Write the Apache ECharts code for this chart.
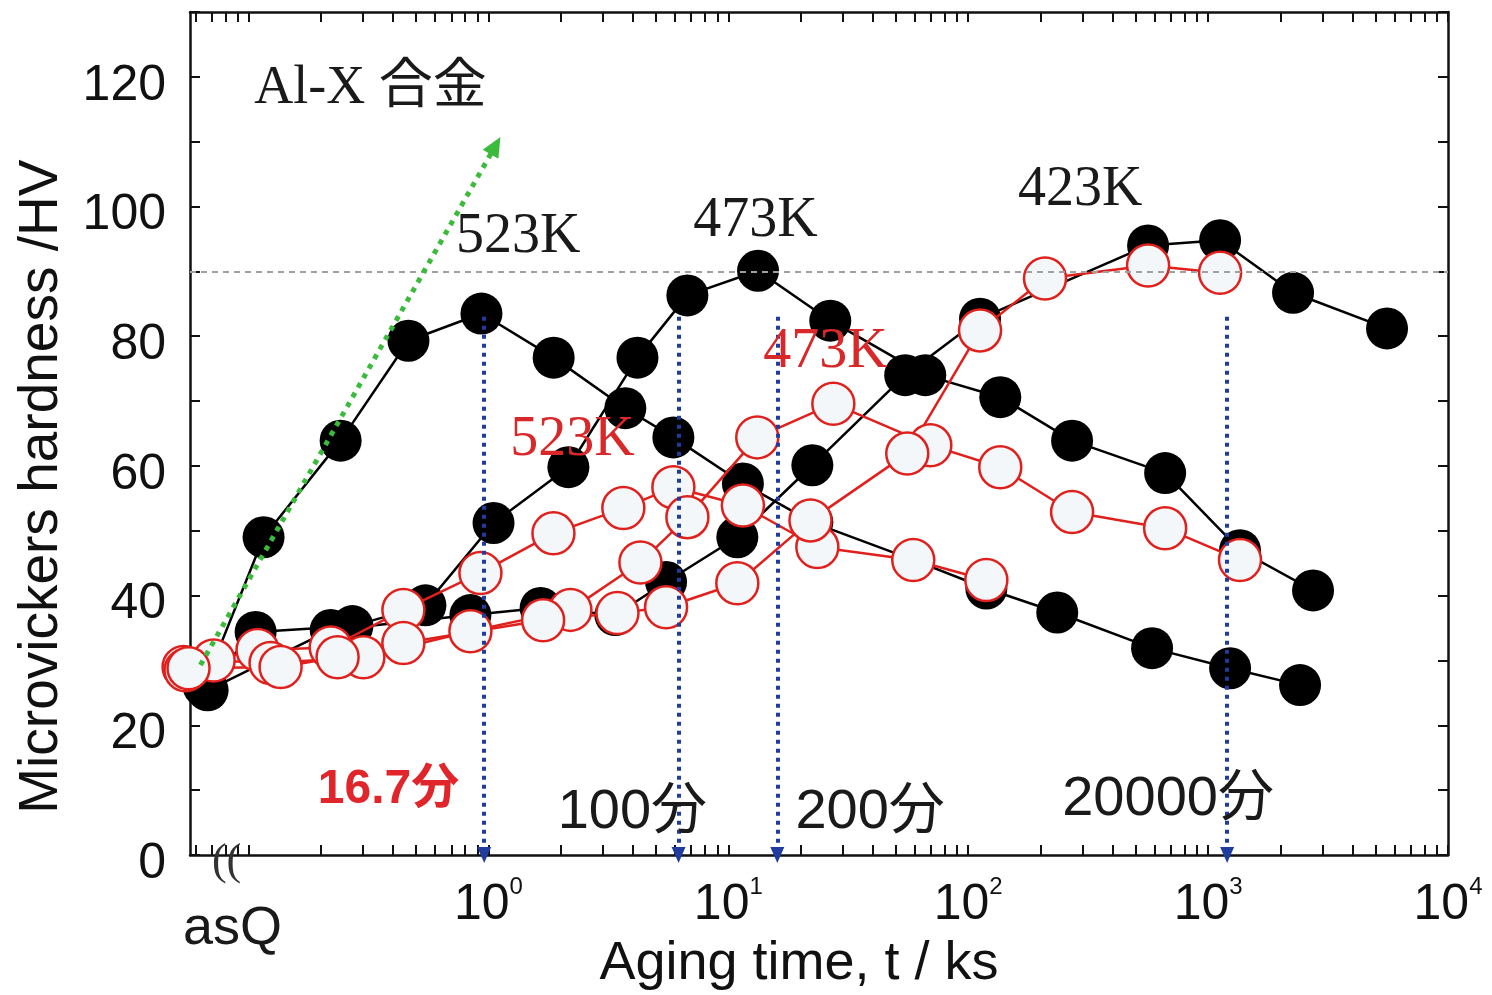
<!DOCTYPE html>
<html><head><meta charset="utf-8">
<script src="https://cdn.jsdelivr.net/npm/echarts@6/dist/echarts.min.js"></script>
<style>html,body{margin:0;padding:0;background:#fff}#c{width:1492px;height:995px}</style>
</head><body><div id="c"></div>
<script>
// ---- data (x: aging time in ks, y: hardness HV) ----
const black523 = [[0.066,26.5],[0.1155,49.0],[0.242,63.9],[0.464,79.3],[0.935,83.5],[1.87,76.7],[3.72,68.9],[5.9,64.4],[11.5,57.3],[22.4,51.3],[59,45.5],[119,41.1],[235,37.4],[584,31.9],[1235,28.8],[2417,26.2]];
const black473 = [[0.065,26.0],[0.107,34.4],[0.271,35.3],[0.546,38.5],[1.05,51.2],[2.154,59.8],[4.18,76.7],[6.75,86.3],[13.3,90.1],[26.6,82.4],[66.2,74.0],[136,70.6],[271,63.9],[662,58.9],[1358,47.0],[2738,40.8]];
const black423 = [[0.0675,25.4],[0.22,34.7],[0.841,37.0],[1.65,38.1],[3.38,37.0],[5.5,42.1],[10.9,49.0],[22.4,60.1],[54.6,74.0],[112,82.7],[562,94.0],[1122,94.8],[2260,86.7],[5570,81.2]];
const red523 = [[0.0536,29.0],[0.109,31.6],[0.22,32.0],[0.442,37.8],[0.926,43.5],[1.866,49.6],[3.65,53.5],[5.9,56.7],[11.5,53.9],[23.5,47.5],[59.0,45.5],[119,42.4]];
const red473 = [[0.0546,28.5],[0.0715,30.0],[0.1235,29.6],[0.301,30.5],[0.841,34.5],[2.196,37.8],[4.30,45.1],[6.75,52.1],[13.2,64.4],[27.4,69.6],[69.5,63.2],[136,59.8],[271,52.9],[662,50.4],[1358,45.5]];
const red423 = [[0.0562,28.8],[0.136,29.0],[0.235,30.5],[0.442,32.7],[1.69,36.2],[3.45,37.3],[5.5,38.2],[10.9,41.9],[22.0,51.6],[55.7,61.9],[112,80.9],[209,88.9],[562,90.9],[1122,89.8]];

const xTickValues = [0.06,0.07,0.08,0.09,0.1,0.2,0.3,0.4,0.5,0.6,0.7,0.8,0.9,1,2,3,4,5,6,7,8,9,10,20,30,40,50,60,70,80,90,100,200,300,400,500,600,700,800,900,1000,2000,3000,4000,5000,6000,7000,8000,9000,10000];
const xLabelValues = [1,10,100,1000,10000];
const yLabelValues = [0,20,40,60,80,100,120];
const arrowTimes = [0.96, 6.2, 16, 1200];
const arrowTop = 83;
const greenArrow = [[0.063,29.3],[1.07,109.4]];
const refLine = 90;

const serif = '"Liberation Serif","DejaVu Serif","Noto Sans CJK JP",serif';
const sans = '"Liberation Sans",Arial,"Noto Sans CJK JP",sans-serif';

const notes = [
  {text:'Al-X 合金', x:0.322, y:118.2, color:'#1a1a1a', family:serif, size:54, weight:'normal'},
  {text:'523K', x:1.33, y:95.2, color:'#1a1a1a', family:serif, size:56, weight:'normal'},
  {text:'473K', x:12.96, y:97.8, color:'#1a1a1a', family:serif, size:56, weight:'normal'},
  {text:'423K', x:293, y:102.5, color:'#1a1a1a', family:serif, size:56, weight:'normal'},
  {text:'523K', x:2.24, y:63.9, color:'#d8282a', family:serif, size:56, weight:'normal'},
  {text:'473K', x:25.4, y:77.5, color:'#d8282a', family:serif, size:56, weight:'normal'},
  {text:'16.7分', x:0.383, y:10.0, color:'#e0262a', family:sans, size:48, weight:'bold'},
  {text:'100分', x:3.98, y:6.6, color:'#1a1a1a', family:sans, size:56, weight:'normal'},
  {text:'200分', x:39, y:6.6, color:'#1a1a1a', family:sans, size:56, weight:'normal'},
  {text:'20000分', x:681, y:8.5, color:'#1a1a1a', family:sans, size:56, weight:'normal'},
  {text:'asQ', x:0.0858, y:-11.5, color:'#1a1a1a', family:sans, size:54, weight:'normal'},
  {text:'((', x:0.081, y:-1.2, color:'#333', family:serif, size:44, weight:'normal'}
];
const yTitle = {text:'Microvickers hardness /HV', x:0.0138, y:56.8};

const X_MIN = 0.057, X_MAX = 10000, Y_MIN = 0, Y_MAX = 130;

function curve(name, data, filled, z) {
  return {
    name, type:'line', data, z, clip:false,
    symbol:'circle', symbolSize:42,
    lineStyle:{color: filled ? '#000' : '#e0201c', width:2.5},
    itemStyle: filled ? {color:'#000'} : {color:'#f3f7f9', borderColor:'#e0201c', borderWidth:2.5},
    emphasis:{disabled:true}, animation:false
  };
}

const chart = echarts.init(document.getElementById('c'));
const axisCommon = {
  axisLine:{show:true, onZero:false, lineStyle:{color:'#111', width:2.5}},
  splitLine:{show:false}
};
chart.setOption({
  animation:false,
  backgroundColor:'#fff',
  grid:{left:190, right:44, top:12, bottom:140, containLabel:false, outerBoundsMode:'none'},
  xAxis:[
    Object.assign({type:'log', logBase:10, min:X_MIN, max:X_MAX, position:'bottom',
      axisTick:{show:true, inside:true, length:10, customValues:xTickValues, lineStyle:{color:'#111', width:2}},
      minorTick:{show:false},
      axisLabel:{show:true, customValues:xLabelValues, margin:20, showMaxLabel:true, showMinLabel:true,
        formatter: v => '{b|10}{s|' + Math.round(Math.log10(v)) + '}',
        rich:{b:{fontSize:50, fontFamily:sans, color:'#111', lineHeight:60, verticalAlign:'middle'},
              s:{fontSize:24, fontFamily:sans, color:'#111', lineHeight:24, verticalAlign:'top'}}},
      name:'Aging time, t / ks', nameLocation:'middle', nameGap:82,
      nameTextStyle:{fontSize:54, fontFamily:sans, color:'#111', padding:[0,40,0,0]}}, axisCommon),
    Object.assign({type:'log', logBase:10, min:X_MIN, max:X_MAX, position:'top',
      axisTick:{show:true, inside:true, length:10, customValues:xTickValues, lineStyle:{color:'#111', width:2}},
      axisLabel:{show:false}}, axisCommon)
  ],
  yAxis:[
    Object.assign({type:'value', min:Y_MIN, max:Y_MAX, interval:10, position:'left',
      axisTick:{show:true, inside:true, length:10, lineStyle:{color:'#111', width:2}},
      axisLabel:{show:true, customValues:yLabelValues, margin:24,
        formatter: v => (yLabelValues.indexOf(v) >= 0 ? '{a|' + v + '}' : ''),
        rich:{a:{fontSize:50, fontFamily:sans, color:'#111', padding:[18,0,0,0]}}}}, axisCommon),
    Object.assign({type:'value', min:Y_MIN, max:Y_MAX, interval:10, position:'right',
      axisTick:{show:true, inside:true, length:10, lineStyle:{color:'#111', width:2}},
      axisLabel:{show:false}}, axisCommon)
  ],
  series:[
    {type:'line', name:'ref', data:[[1,refLine]], symbol:'none', lineStyle:{opacity:0}, z:1, silent:true,
      markLine:{silent:true, symbol:['none','none'], label:{show:false},
        lineStyle:{color:'#a0a0a0', width:2, type:[6,5]}, data:[{yAxis:refLine}]}},
    curve('B523', black523, true, 2),
    curve('B473', black473, true, 2),
    curve('B423', black423, true, 2),
    curve('R523', red523, false, 3),
    curve('R473', red473, false, 3),
    curve('R423', red423, false, 3),
    {type:'line', name:'arrows', data:[[1,50]], symbol:'none', lineStyle:{opacity:0}, z:10, silent:true,
      markLine:{silent:true, symbol:['none','triangle'], symbolSize:[14,16], label:{show:false},
        lineStyle:{color:'#1f3c9e', width:4, type:[4,5]},
        data: arrowTimes.map(t => [{coord:[t, arrowTop]}, {coord:[t, 0]}])}},
    {type:'line', name:'green', data:[[1,50]], symbol:'none', lineStyle:{opacity:0}, z:11, silent:true,
      markLine:{silent:true, symbol:['none','triangle'], symbolSize:[18,20], label:{show:false},
        lineStyle:{color:'#3cba3c', width:5, type:[5,6]},
        data:[[{coord:greenArrow[0]},{coord:greenArrow[1]}]]}}
  ]
});

const g = notes.map(n => {
  const p = chart.convertToPixel({xAxisIndex:0, yAxisIndex:0}, [n.x, n.y]);
  return {type:'text', x:p[0], y:p[1], z:100,
    style:{text:n.text, fill:n.color, fontSize:n.size, fontFamily:n.family, fontWeight:n.weight,
      align:'center', verticalAlign:'middle'}};
});
const tp = chart.convertToPixel({xAxisIndex:0, yAxisIndex:0}, [yTitle.x, yTitle.y]);
g.push({type:'text', x:tp[0], y:tp[1], rotation:Math.PI/2, z:100,
  style:{text:yTitle.text, fill:'#111', fontSize:55, fontFamily:sans, align:'center', verticalAlign:'middle'}});
chart.setOption({graphic:g});
</script></body></html>
